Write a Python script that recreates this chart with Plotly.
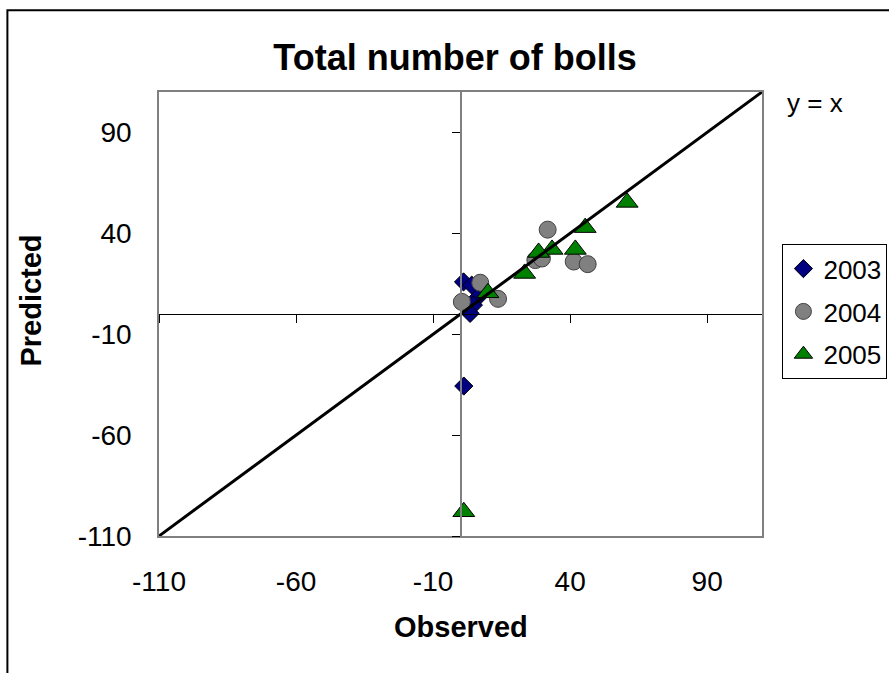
import plotly.graph_objects as go

# Observed vs predicted total number of bolls, by season
obs_2003 = [1.1, 4.1, 6.5, 4.7, 3.5, 1.2]
pred_2003 = [15.9, 14.3, 8.5, 4.4, 0.3, -35.7]

obs_2004 = [7.2, 0.5, 13.7, 31.8, 27.3, 29.7, 41.3, 46.4]
pred_2004 = [15.5, 6.0, 7.5, 41.8, 26.7, 27.5, 26.0, 24.7]

obs_2005 = [60.8, 45.5, 41.9, 33.4, 28.5, 23.4, 10.0, 1.2]
pred_2005 = [55.3, 42.8, 32.0, 32.0, 30.5, 20.1, 10.5, -98.0]

axis_range = [-110, 110]
tick_values = [-110, -60, -10, 40, 90]
tick_labels = ["-110", "-60", "-10", "40", "90"]
identity_line = [-110, 110]

FONT = "Arial, Liberation Sans, sans-serif"

fig = go.Figure()

fig.add_trace(go.Scatter(
    x=obs_2003, y=pred_2003, mode="markers", name="2003", legendgroup="a",
    marker=dict(symbol="diamond", size=14, color="#000080",
                line=dict(color="black", width=1)),
))
fig.add_trace(go.Scatter(
    x=obs_2004, y=pred_2004, mode="markers", name="2004", legendgroup="b",
    marker=dict(symbol="circle", size=17, color="#808080",
                line=dict(color="#404040", width=1)),
))
fig.add_trace(go.Scatter(
    x=obs_2005, y=pred_2005, mode="markers", name="2005", legendgroup="c",
    marker=dict(symbol="triangle-up", size=19, color="#008000",
                line=dict(color="black", width=1)),
))
# 1:1 reference line, drawn on the overlay axes so it sits above the markers
fig.add_trace(go.Scatter(
    x=identity_line, y=identity_line, mode="lines", showlegend=False,
    line=dict(color="black", width=3), xaxis="x2", yaxis="y2",
    hoverinfo="skip",
))

frame_axis = dict(
    range=axis_range, tickmode="array", tickvals=tick_values, ticktext=tick_labels,
    showgrid=False, zeroline=False, showline=True, mirror=True,
    linecolor="#808080", linewidth=1.5, ticks="",
    tickfont=dict(family=FONT, size=28, color="black"),
)
cross_axis = dict(
    range=axis_range, tickmode="array", tickvals=tick_values,
    showgrid=False, zeroline=False, showline=True, ticks="outside",
    ticklen=8, tickwidth=1, tickcolor="black", showticklabels=False,
    anchor="free", position=0.5,
)

fig.update_layout(
    width=889, height=673,
    margin=dict(l=159, r=127, t=92, b=137, autoexpand=False),
    paper_bgcolor="white", plot_bgcolor="white",
    title=dict(text="<b>Total number of bolls</b>", x=455 / 889, y=1 - 57 / 673,
               xref="container", yref="container", xanchor="center",
               yanchor="middle", font=dict(family=FONT, size=36, color="black")),
    xaxis=dict(frame_axis, ticklabelstandoff=20),
    yaxis=dict(frame_axis, ticklabelstandoff=20),
    xaxis2=dict(cross_axis, overlaying="x", linecolor="black", linewidth=1),
    yaxis2=dict(cross_axis, overlaying="y", side="left",
                linecolor="#808080", linewidth=1.5),
    legend=dict(x=(782 - 159.4) / 602.2, y=(536 - 244) / 444.3,
                xanchor="left", yanchor="top",
                bordercolor="black", borderwidth=1, bgcolor="white",
                font=dict(family=FONT, size=26, color="black"),
                tracegroupgap=6, entrywidth=130),
    showlegend=True,
)

fig.add_annotation(text="<b>Predicted</b>", textangle=-90, xref="paper", yref="paper",
                   x=(32 - 159.4) / 602.2, y=(536 - 300) / 444.3,
                   xanchor="center", yanchor="middle", showarrow=False,
                   font=dict(family=FONT, size=29, color="black"))
fig.add_annotation(text="<b>Observed</b>", xref="paper", yref="paper",
                   x=0.5, y=(536 - 627) / 444.3, xanchor="center", yanchor="middle",
                   showarrow=False, font=dict(family=FONT, size=29, color="black"))
fig.add_annotation(text="y = x", xref="paper", yref="paper",
                   x=(785 - 159.4) / 602.2, y=(536 - 103) / 444.3,
                   xanchor="left", yanchor="middle", showarrow=False,
                   font=dict(family=FONT, size=26, color="black"))

# outer chart border
fig.add_shape(type="rect", xref="paper", yref="paper",
              x0=(8 - 159.4) / 602.2, x1=1.4,
              y0=-0.5, y1=(536 - 10) / 444.3,
              line=dict(color="black", width=2), fillcolor="rgba(0,0,0,0)",
              layer="below")

fig.write_html("out.html")
